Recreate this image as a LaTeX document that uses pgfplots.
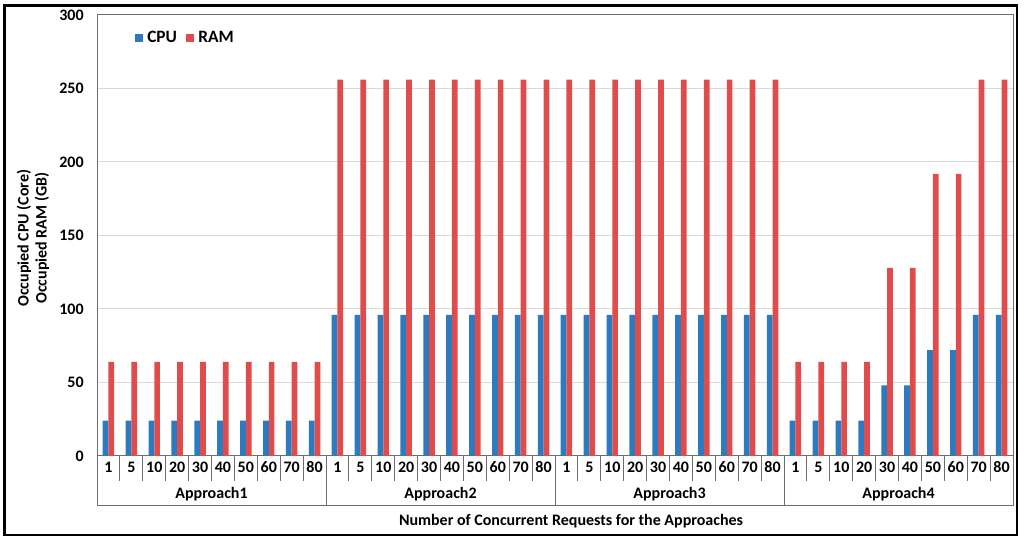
\documentclass[border=0pt]{standalone}
\usepackage{fontspec}
\setmainfont{Carlito}
\usepackage{pgfplots}
\pgfplotsset{compat=1.18}

\definecolor{cpublue}{RGB}{44,123,192}
\definecolor{ramred}{RGB}{224,76,76}
\definecolor{framegray}{RGB}{110,110,110}
\definecolor{gridgray}{RGB}{217,217,217}

\newcommand{\lblfont}{\bfseries\fontsize{12}{13.5}\selectfont}

\begin{document}
\begin{tikzpicture}
\useasboundingbox (0,0) rectangle (768pt,405.75pt);
\draw[line width=2pt] (3.4pt,4.5pt) rectangle (762.75pt,401.6pt);
\begin{axis}[
  scale only axis, width=687pt, height=330.75pt,
  at={(72.75pt,63.75pt)}, anchor=south west,
  clip=false,
  ybar=0pt, bar width=4.3pt,
  xmin=0, xmax=40, ymin=0, ymax=300,
  ytick={0,50,...,300},
  ymajorgrids, grid style={gridgray, line width=0.75pt},
  axis line style={framegray, line width=0.75pt},
  major tick length=0pt,
  xtick=data,
  xticklabels={1,5,10,20,30,40,50,60,70,80,
               1,5,10,20,30,40,50,60,70,80,
               1,5,10,20,30,40,50,60,70,80,
               1,5,10,20,30,40,50,60,70,80},
  /pgf/number format/assume math mode=true,
  xticklabel style={anchor=center, yshift=-8.6pt, font=\lblfont},
  yticklabel style={anchor=east, xshift=-6.5pt, font=\lblfont},
  xlabel={Number of Concurrent Requests for the Approaches},
  xlabel style={at={(axis description cs:0.5175,-0.1474)}, anchor=center, font=\lblfont},
  ylabel={Occupied CPU (Core)\\Occupied RAM (GB)},
  ylabel style={at={(axis description cs:-0.0699,0.494)}, anchor=center, align=center, font=\lblfont},
  legend columns=2,
  legend image code/.code={\fill[#1] (0pt,-2.7pt) rectangle (6pt,2.7pt);},
  legend style={draw=none, fill=none, inner sep=0pt,
    at={(axis description cs:0.0415,0.948)}, anchor=west,
    font=\bfseries\fontsize{13}{15}\selectfont,
    /tikz/every odd column/.append style={column sep=1pt},
    /tikz/every even column/.append style={column sep=5pt}},
]
\addplot[fill=cpublue, draw=none] coordinates {
(0.5,24) (1.5,24) (2.5,24) (3.5,24) (4.5,24) (5.5,24) (6.5,24) (7.5,24) (8.5,24) (9.5,24)
(10.5,96) (11.5,96) (12.5,96) (13.5,96) (14.5,96) (15.5,96) (16.5,96) (17.5,96) (18.5,96) (19.5,96)
(20.5,96) (21.5,96) (22.5,96) (23.5,96) (24.5,96) (25.5,96) (26.5,96) (27.5,96) (28.5,96) (29.5,96)
(30.5,24) (31.5,24) (32.5,24) (33.5,24) (34.5,48) (35.5,48) (36.5,72) (37.5,72) (38.5,96) (39.5,96)
};
\addplot[fill=ramred, draw=none] coordinates {
(0.5,64) (1.5,64) (2.5,64) (3.5,64) (4.5,64) (5.5,64) (6.5,64) (7.5,64) (8.5,64) (9.5,64)
(10.5,256) (11.5,256) (12.5,256) (13.5,256) (14.5,256) (15.5,256) (16.5,256) (17.5,256) (18.5,256) (19.5,256)
(20.5,256) (21.5,256) (22.5,256) (23.5,256) (24.5,256) (25.5,256) (26.5,256) (27.5,256) (28.5,256) (29.5,256)
(30.5,64) (31.5,64) (32.5,64) (33.5,64) (34.5,128) (35.5,128) (36.5,192) (37.5,192) (38.5,256) (39.5,256)
};
\legend{CPU,RAM}
% category table below the axis
\pgfplotsinvokeforeach{1,2,3,4,5,6,7,8,9,11,12,13,14,15,16,17,18,19,21,22,23,24,25,26,27,28,29,31,32,33,34,35,36,37,38,39}{
  \draw[framegray, line width=0.75pt] (axis cs:#1,0) -- ++(0pt,-18.75pt);
}
\pgfplotsinvokeforeach{0,10,20,30,40}{
  \draw[framegray, line width=0.75pt] (axis cs:#1,0) -- ++(0pt,-37.5pt);
}
\draw[framegray, line width=0.75pt] (axis cs:0,0) ++(0pt,-37.5pt) -- ([yshift=-37.5pt]axis cs:40,0);
\node[font=\lblfont] at ([yshift=-28.5pt]axis cs:5,0) {Approach1};
\node[font=\lblfont] at ([yshift=-28.5pt]axis cs:15,0) {Approach2};
\node[font=\lblfont] at ([yshift=-28.5pt]axis cs:25,0) {Approach3};
\node[font=\lblfont] at ([yshift=-28.5pt]axis cs:35,0) {Approach4};
\end{axis}
\end{tikzpicture}
\end{document}
